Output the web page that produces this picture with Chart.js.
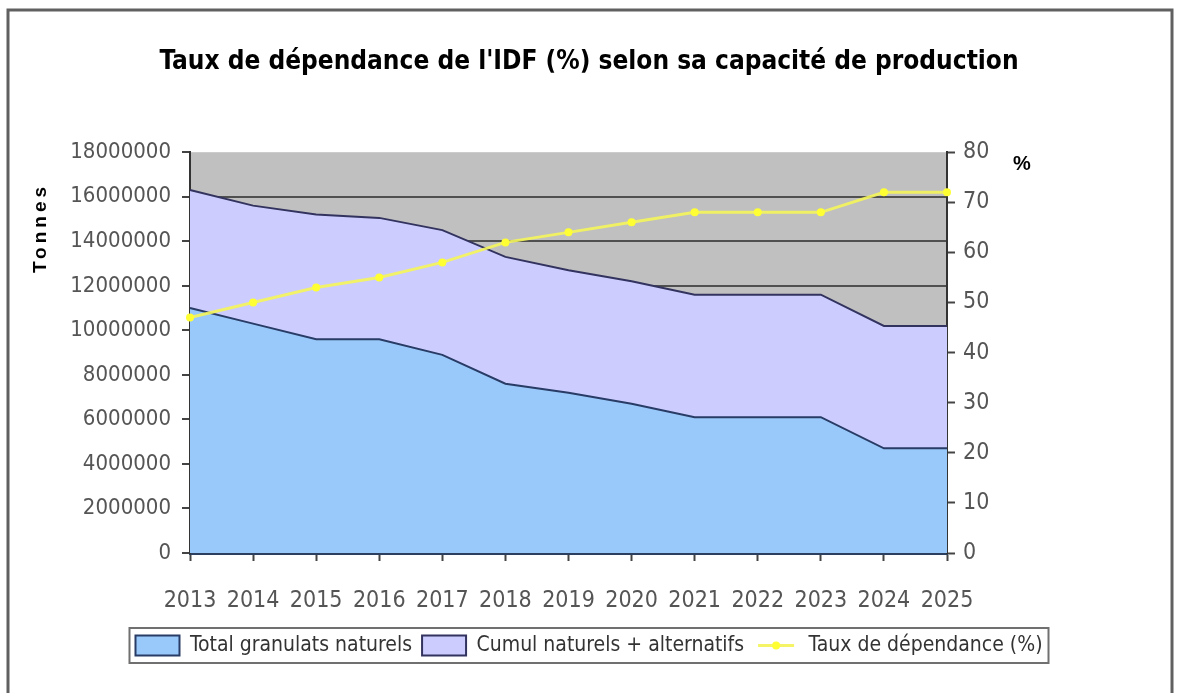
<!DOCTYPE html>
<html>
<head>
<meta charset="utf-8">
<script src="https://cdn.jsdelivr.net/npm/chart.js@4/dist/chart.umd.min.js"></script>
<style>
  html, body { margin: 0; padding: 0; background: #fff; }
  #wrap { width: 1178px; height: 693px; }
</style>
</head>
<body>
<div id="wrap"><canvas id="chartIDF"></canvas></div>
<script>
// donnees
const annees = ['2013', '2014', '2015', '2016', '2017', '2018', '2019', '2020', '2021', '2022', '2023', '2024', '2025'];
const totalNaturels = [11000000, 10300000, 9600000, 9600000, 8900000, 7600000, 7200000, 6700000, 6100000, 6100000, 6100000, 4700000, 4700000];
const cumulAlternatifs = [16300000, 15600000, 15200000, 15050000, 14500000, 13300000, 12700000, 12200000, 11600000, 11600000, 11600000, 10200000, 10200000];
const tauxDependance = [47, 50, 53, 55, 58, 62, 64, 66, 68, 68, 68, 72, 72];

const narrow = "'DejaVu Sans Condensed', 'Liberation Sans Narrow', sans-serif";

// fond gris de la zone de tracé, cadre, textes d'axes et cadre de légende
const decorPlugin = {
  id: 'decor',
  beforeDraw(chart) {
    const { ctx, chartArea } = chart;
    ctx.save();
    ctx.fillStyle = '#c0c0c0';
    ctx.fillRect(chartArea.left, chartArea.top, chartArea.right - chartArea.left, chartArea.bottom - chartArea.top);
    ctx.restore();
  },
  afterDraw(chart) {
    const { ctx } = chart;
    ctx.save();
    // cadre exterieur
    ctx.strokeStyle = '#606060';
    ctx.lineWidth = 3;
    ctx.strokeRect(8, 10, 1164, 700);

    // titre axe gauche
    ctx.fillStyle = '#000';
    ctx.font = "bold 19px 'Liberation Sans', Arial, sans-serif";
    ctx.letterSpacing = '4px';
    ctx.textAlign = 'center';
    ctx.textBaseline = 'middle';
    ctx.translate(41, 228);
    ctx.rotate(-Math.PI / 2);
    ctx.fillText('Tonnes', 0, 0);
    ctx.restore();

    ctx.save();
    ctx.fillStyle = '#000';
    ctx.font = "bold 20px 'Liberation Sans', Arial, sans-serif";
    ctx.textAlign = 'center';
    ctx.textBaseline = 'middle';
    ctx.fillText('%', 1022, 164);

    // cadre de la legende
    const boxes = chart.legend.legendHitBoxes;
    if (boxes && boxes.length) {
      const left = Math.min(...boxes.map(b => b.left)) - 6;
      const right = Math.max(...boxes.map(b => b.left + b.width)) + 6;
      const top = boxes[0].top - 7;
      const h = boxes[0].height + 14;
      ctx.strokeStyle = '#707070';
      ctx.lineWidth = 2;
      ctx.strokeRect(left, top, right - left, h);

      // symbole de la serie en ligne
      const b = boxes[2];
      const cy = b.top + b.height / 2;
      ctx.strokeStyle = '#f4f466';
      ctx.lineWidth = 3;
      ctx.beginPath();
      ctx.moveTo(b.left + 4, cy);
      ctx.lineTo(b.left + 40, cy);
      ctx.stroke();
      ctx.fillStyle = '#ffff33';
      ctx.beginPath();
      ctx.arc(b.left + 22, cy, 4, 0, Math.PI * 2);
      ctx.fill();
    }
    ctx.restore();
  }
};

const ctxIDF = document.getElementById('chartIDF');

const dataIDF = {
  labels: annees,
  datasets: [{
    label: 'Total granulats naturels',
    data: totalNaturels,
    yAxisID: 'y',
    fill: 'origin',
    backgroundColor: '#99c9fa',
    borderColor: '#283c66',
    borderWidth: 2,
    pointRadius: 0,
    tension: 0,
    order: 1
  },
  {
    label: 'Cumul naturels + alternatifs',
    data: cumulAlternatifs,
    yAxisID: 'y',
    fill: 'origin',
    backgroundColor: '#ccccff',
    borderColor: '#33335f',
    borderWidth: 2,
    pointRadius: 0,
    tension: 0,
    order: 2
  },
  {
    label: 'Taux de dépendance (%)',
    data: tauxDependance,
    yAxisID: 'y1',
    fill: false,
    backgroundColor: '#ffff33',
    borderColor: 'rgba(245, 245, 90, 0.9)',
    borderWidth: 3,
    pointRadius: 4,
    pointBackgroundColor: '#ffff33',
    pointBorderWidth: 0,
    tension: 0,
    order: 0
  }]
};

const chartIDF = new Chart(ctxIDF, {
  type: 'line',
  data: dataIDF,
  options: {
    responsive: true,
    maintainAspectRatio: false,
    animation: false,
    layout: {
      padding: { top: 10, left: 10, right: 10, bottom: 27 }
    },
    plugins: {
      title: {
        display: true,
        text: "Taux de dépendance de l'IDF (%) selon sa capacité de production",
        color: '#000',
        font: { family: narrow, size: 26, weight: 'bold' },
        padding: { top: 37, bottom: 74 }
      },
      legend: {
        display: true,
        position: 'bottom',
        labels: {
          color: '#333',
          font: { family: narrow, size: 21 },
          boxWidth: 44,
          boxHeight: 20,
          padding: 10,
          generateLabels(chart) {
            const items = Chart.defaults.plugins.legend.labels.generateLabels(chart);
            items.sort((a, b) => a.datasetIndex - b.datasetIndex);
            items[2].fillStyle = 'rgba(0,0,0,0)';
            items[2].strokeStyle = 'rgba(0,0,0,0)';
            items[2].lineWidth = 0;
            return items;
          }
        }
      },
      tooltip: { enabled: false }
    },
    scales: {
      x: {
        offset: false,
        afterFit(scale) { scale.height = 72; },
        grid: {
          drawOnChartArea: false,
          drawTicks: true,
          tickLength: 8,
          tickColor: '#444',
          tickWidth: 2
        },
        border: { display: true, color: '#2d3f5e', width: 3 },
        ticks: {
          color: '#555',
          font: { family: narrow, size: 23 },
          padding: 26,
          maxRotation: 0,
          autoSkip: false
        }
      },
      y: {
        position: 'left',
        min: 0,
        max: 18000000,
        afterFit(scale) { scale.width = 180; },
        grid: {
          color: ctx => (ctx.tick && ctx.tick.value === 18000000) ? 'rgba(0,0,0,0)' : '#505050',
          lineWidth: 2,
          tickLength: 8,
          tickColor: '#444',
          tickWidth: 2
        },
        border: { display: true, color: '#333', width: 2 },
        ticks: {
          stepSize: 2000000,
          color: '#555',
          font: { family: narrow, size: 22 },
          padding: 11,
          callback: v => String(v)
        }
      },
      y1: {
        position: 'right',
        min: 0,
        max: 80,
        afterFit(scale) { scale.width = 221; },
        grid: {
          drawOnChartArea: false,
          tickLength: 8,
          tickColor: '#444',
          tickWidth: 2
        },
        border: { display: true, color: '#333', width: 2 },
        ticks: {
          stepSize: 10,
          color: '#555',
          font: { family: narrow, size: 23 },
          padding: 8
        }
      }
    }
  },
  plugins: [decorPlugin]
});
</script>
</body>
</html>
